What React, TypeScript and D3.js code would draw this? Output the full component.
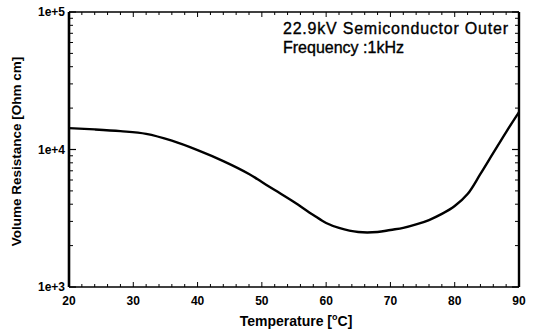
import React from "react";
import * as d3 from "d3";

const temps = [20, 24, 28, 32, 36, 40, 44, 48, 50, 52, 55, 58, 60, 62, 65, 68, 70, 72, 74, 76, 78, 80, 82, 84, 86, 88, 90];
const resistance = [14300, 14000, 13600, 13000, 11600, 9900, 8240, 6640, 5800, 5070, 4150, 3340, 2920, 2690, 2510, 2510, 2600, 2690, 2850, 3070, 3400, 3880, 4740, 6640, 9440, 13400, 18700];
const xTicks = [20, 30, 40, 50, 60, 70, 80, 90];
const yTicks = [1e3, 1e4, 1e5];
const yTickLabels = ["1e+3", "1e+4", "1e+5"];
const annotation = ["22.9kV Semiconductor Outer", "Frequency :1kHz"];

export default function App() {
  const W = 538, H = 333;
  const L = 69, R = 519, T = 12, B = 287;
  const x = d3.scaleLinear().domain([20, 90]).range([L, R]);
  const y = d3.scaleLog().domain([1e3, 1e5]).range([B, T]);
  const line = d3
    .line<number>()
    .x((_, i) => x(temps[i]))
    .y((d) => y(d))
    .curve(d3.curveCatmullRom.alpha(0.5));
  const minorY: number[] = [];
  [1e3, 1e4].forEach((dec) => {
    for (let k = 2; k <= 9; k++) minorY.push(dec * k);
  });
  const minorX = d3.range(20, 91, 2);
  const font = "'Liberation Sans', Arial, sans-serif";
  return (
    <svg width={W} height={H} style={{ position: "absolute", left: 0, top: 0 }} fontFamily={font}>
      <rect width={W} height={H} fill="#fff" />
      {minorY.map((v) => (
        <g key={"my" + v}>
          <line x1={L} x2={L + 4} y1={y(v)} y2={y(v)} stroke="#000" strokeWidth={1} />
          <line x1={R} x2={R - 4} y1={y(v)} y2={y(v)} stroke="#000" strokeWidth={1} />
        </g>
      ))}
      {yTicks.map((v) => (
        <g key={"My" + v}>
          <line x1={L} x2={L + 7} y1={y(v)} y2={y(v)} stroke="#000" strokeWidth={1.2} />
          <line x1={R} x2={R - 7} y1={y(v)} y2={y(v)} stroke="#000" strokeWidth={1.2} />
        </g>
      ))}
      {minorX.map((v) => (
        <g key={"mx" + v}>
          <line x1={x(v)} x2={x(v)} y1={B} y2={B - (v % 10 === 0 ? 5 : 3)} stroke="#000" strokeWidth={1} />
          <line x1={x(v)} x2={x(v)} y1={T} y2={T + (v % 10 === 0 ? 5 : 3)} stroke="#000" strokeWidth={1} />
        </g>
      ))}
      <line x1={L} x2={R} y1={T} y2={T} stroke="#000" strokeWidth={1.3} />
      <line x1={L} x2={R} y1={B} y2={B} stroke="#000" strokeWidth={1.6} />
      <line x1={L} x2={L} y1={T} y2={B} stroke="#000" strokeWidth={2.6} />
      <line x1={R} x2={R} y1={T} y2={B} stroke="#000" strokeWidth={2.4} />
      <path d={line(resistance) || ""} fill="none" stroke="#000" strokeWidth={2.4} strokeLinejoin="round" />
      {yTicks.map((v, i) => (
        <text key={"yl" + v} x={L - 4} y={y(v) + 4} textAnchor="end" fontSize={12} fontWeight="bold">
          {yTickLabels[i]}
        </text>
      ))}
      {xTicks.map((v) => (
        <text key={"xl" + v} x={x(v)} y={305} textAnchor="middle" fontSize={12} fontWeight="bold">
          {v}
        </text>
      ))}
      <text
        transform={`translate(21, ${(T + B) / 2 + 2}) rotate(-90)`}
        textAnchor="middle"
        fontSize={13.5}
        fontWeight="bold"
      >
        Volume Resistance [Ohm cm]
      </text>
      <text x={296} y={326} textAnchor="middle" fontSize={14} fontWeight="bold">
        Temperature [<tspan fontSize={9} dy={-6}>o</tspan>
        <tspan dy={6}>C]</tspan>
      </text>
      {annotation.map((s, i) => (
        <text
          key={s}
          x={283}
          y={34 + i * 19}
          fontSize={16}
          stroke="#000"
          strokeWidth={0.35}
          textLength={i === 0 ? 225 : undefined}
          lengthAdjust="spacing"
        >
          {s}
        </text>
      ))}
    </svg>
  );
}
